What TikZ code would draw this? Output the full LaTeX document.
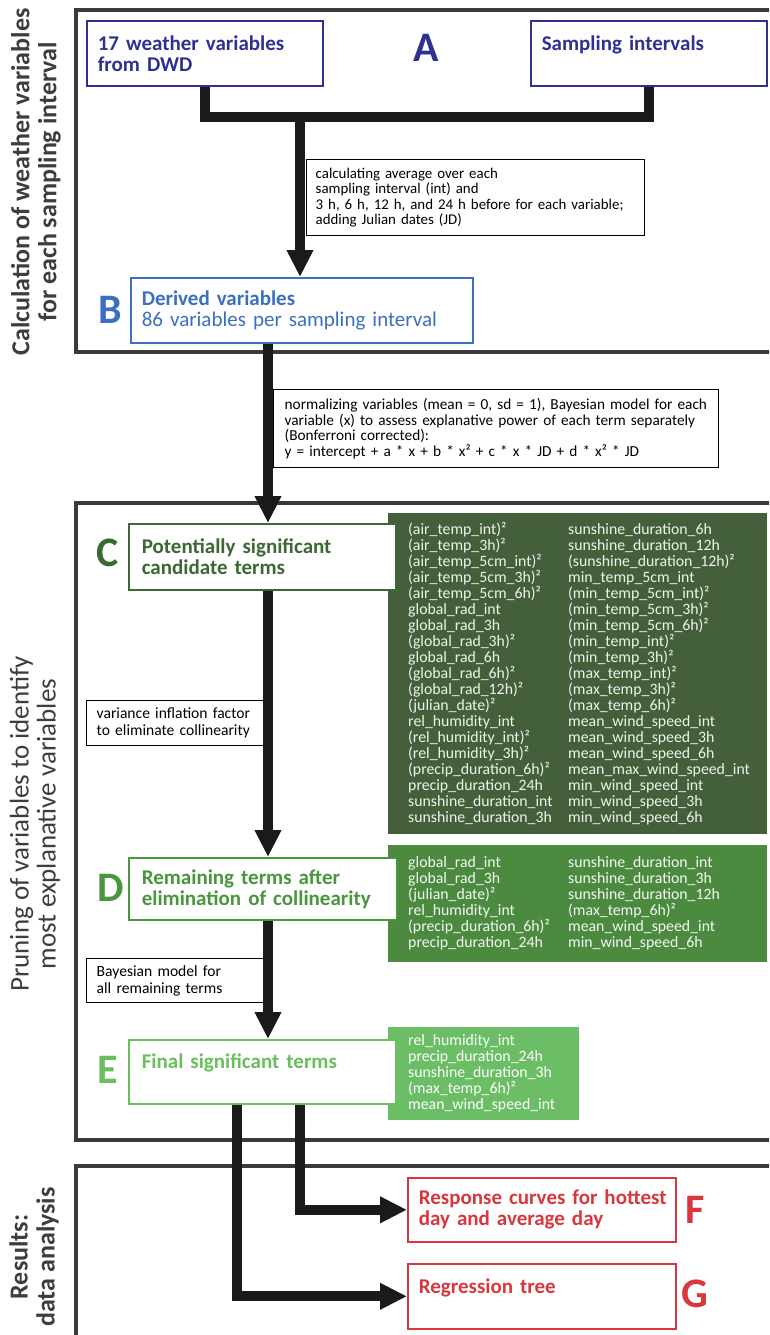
\documentclass[tikz,border=0pt]{standalone}
\usepackage{fontspec}
\setmainfont{Carlito}
\usetikzlibrary{arrows.meta}

\definecolor{navy}{RGB}{46,49,146}
\definecolor{lblue}{RGB}{59,111,194}
\definecolor{cgreen}{RGB}{60,104,52}
\definecolor{cpanel}{RGB}{68,96,59}
\definecolor{dgreen}{RGB}{74,150,62}
\definecolor{dpanel}{RGB}{76,139,63}
\definecolor{egreen}{RGB}{106,190,94}
\definecolor{epanel}{RGB}{108,190,102}
\definecolor{fred}{RGB}{215,55,61}
\definecolor{framegray}{RGB}{58,58,58}
\definecolor{sidegray}{RGB}{61,61,61}
\definecolor{flowblack}{RGB}{26,26,26}

\newcommand{\termrow}[2]{\makebox[160pt][l]{#1}#2}

\tikzset{
	stagebox/.style={draw, fill=white, line width=1.6pt, anchor=north west, align=left,
		inner xsep=11pt, inner ysep=0pt, font=\fontsize{21}{21}\selectfont\bfseries},
	notebox/.style={draw=black, fill=white, line width=1.4pt, anchor=north west, align=left,
		inner xsep=10pt, inner ysep=0pt, font=\fontsize{15.6}{17}\selectfont},
	termpanel/.style={anchor=north west, align=left, inner xsep=20pt, inner ysep=0pt,
		font=\fontsize{15.8}{16}\selectfont},
	stagetag/.style={font=\fontsize{42}{42}\selectfont\bfseries},
	sidelabel/.style={rotate=90, align=center, text=sidegray},
	stageframe/.style={draw=framegray, line width=3.5pt},
	flowline/.style={draw=flowblack, line width=10pt, line join=miter},
	bigtip/.style={-{Triangle[length=27pt,width=25pt]}}
}

\begin{document}
\begin{tikzpicture}[x=1pt, y=-1pt]
		%%%%% START %%%%%
		\clip (0,0) rectangle (769,1335);
		\fill[white] (0,0) rectangle (769,1335);
		
		\draw[stageframe] (76,10) rectangle (800,352);
		\draw[stageframe] (76,503) rectangle (800,1140);
		\draw[stageframe] (76,1166) rectangle (800,1400);
		
		\node[sidelabel, font=\fontsize{26}{27}\selectfont\bfseries] (calclabel) at (36,182) {Calculation of weather variables\\for each sampling interval};
		\node[sidelabel, font=\fontsize{27}{27}\selectfont] (prunelabel) at (35,824) {Pruning of variables to identify\\most explanative variables};
		\node[sidelabel, font=\fontsize{26}{27}\selectfont\bfseries] (resultlabel) at (34,1257) {Results:\\data analysis};
		
		% A and B
		\node[stagebox, draw=navy, text=navy, text width=214pt, minimum width=236pt, minimum height=65pt] (dwd) at (86,20) {17 weather variables\\from DWD};
		\node[stagebox, draw=navy, text=navy, text width=214pt, minimum width=236pt, minimum height=65pt] (intervals) at (530,20) {Sampling intervals\\\mbox{}};
		\node[stagetag, text=navy] (tagA) at (426,48) {A};
		
		\node[notebox, font=\fontsize{14.9}{15.6}\selectfont, inner xsep=9pt, text width=320pt, minimum height=76pt] (averaging) at (306,159) {\mbox{calculating average over each}\\\mbox{sampling interval (int) and}\\\mbox{3 h, 6 h, 12 h, and 24 h before for each variable;}\\\mbox{adding Julian dates (JD)}};
		
		\node[stagebox, draw=lblue, text=lblue, font=\fontsize{21}{21}\selectfont, text width=320pt, minimum width=342pt, minimum height=65pt] (derived) at (130,277) {\textbf{Derived variables}\\86 variables per sampling interval};
		\node[stagetag, text=lblue] (tagB) at (110,310) {B};
		
		\node[notebox, font=\fontsize{15.3}{15.5}\selectfont, inner xsep=11pt, text width=423pt, minimum height=78pt] (modelnote) at (273,389) {\mbox{normalizing variables (mean = 0, sd = 1), Bayesian model for each}\\\mbox{variable (x) to assess explanative power of each term separately}\\\mbox{(Bonferroni corrected):}\\\mbox{y = intercept + a * x + b * x² + c * x * JD + d * x² * JD}};
		
		% C
		\node[termpanel, fill=cpanel, text=cpanel!8, text width=339pt, minimum height=321pt] (candlist) at (388,513) {%
			\termrow{(air\_temp\_int)²}{sunshine\_duration\_6h}\\
			\termrow{(air\_temp\_3h)²}{sunshine\_duration\_12h}\\
			\termrow{(air\_temp\_5cm\_int)²}{(sunshine\_duration\_12h)²}\\
			\termrow{(air\_temp\_5cm\_3h)²}{min\_temp\_5cm\_int}\\
			\termrow{(air\_temp\_5cm\_6h)²}{(min\_temp\_5cm\_int)²}\\
			\termrow{global\_rad\_int}{(min\_temp\_5cm\_3h)²}\\
			\termrow{global\_rad\_3h}{(min\_temp\_5cm\_6h)²}\\
			\termrow{(global\_rad\_3h)²}{(min\_temp\_int)²}\\
			\termrow{global\_rad\_6h}{(min\_temp\_3h)²}\\
			\termrow{(global\_rad\_6h)²}{(max\_temp\_int)²}\\
			\termrow{(global\_rad\_12h)²}{(max\_temp\_3h)²}\\
			\termrow{(julian\_date)²}{(max\_temp\_6h)²}\\
			\termrow{rel\_humidity\_int}{mean\_wind\_speed\_int}\\
			\termrow{(rel\_humidity\_int)²}{mean\_wind\_speed\_3h}\\
			\termrow{(rel\_humidity\_3h)²}{mean\_wind\_speed\_6h}\\
			\termrow{(precip\_duration\_6h)²}{mean\_max\_wind\_speed\_int}\\
			\termrow{precip\_duration\_24h}{min\_wind\_speed\_int}\\
			\termrow{sunshine\_duration\_int}{min\_wind\_speed\_3h}\\
			\termrow{sunshine\_duration\_3h}{min\_wind\_speed\_6h}};
		\node[stagebox, draw=cgreen, text=cgreen, inner xsep=13pt, text width=241pt, minimum width=267pt, minimum height=66pt] (cand) at (128,523) {Potentially significant\\candidate terms};
		\node[stagetag, text=cgreen] (tagC) at (108,553) {C};
		
		\node[notebox, text width=157pt, minimum height=45pt] (vifnote) at (86,700) {\mbox{variance inflation factor}\\\mbox{to eliminate collinearity}};
		
		% D
		\node[termpanel, fill=dpanel, text=dpanel!6, text width=339pt, minimum height=117pt] (remlist) at (388,845) {%
			\termrow{global\_rad\_int}{sunshine\_duration\_int}\\
			\termrow{global\_rad\_3h}{sunshine\_duration\_3h}\\
			\termrow{(julian\_date)²}{sunshine\_duration\_12h}\\
			\termrow{rel\_humidity\_int}{(max\_temp\_6h)²}\\
			\termrow{(precip\_duration\_6h)²}{mean\_wind\_speed\_int}\\
			\termrow{precip\_duration\_24h}{min\_wind\_speed\_6h}};
		\node[stagebox, draw=dgreen, text=dgreen, inner xsep=13pt, text width=242pt, minimum width=268pt, minimum height=62pt] (rem) at (128,857) {Remaining terms after\\elimination of collinearity};
		\node[stagetag, text=dgreen] (tagD) at (111,888) {D};
		
		\node[notebox, text width=157pt, minimum height=44pt] (fitnote) at (86,958) {\mbox{Bayesian model for}\\\mbox{all remaining terms}};
		
		% E
		\node[termpanel, fill=epanel, text=white, text width=151pt, minimum height=93pt] (finlist) at (388,1027) {%
			rel\_humidity\_int\\
			precip\_duration\_24h\\
			sunshine\_duration\_3h\\
			(max\_temp\_6h)²\\
			mean\_wind\_speed\_int};
		\node[stagebox, draw=egreen, text=egreen, inner xsep=13pt, text width=241pt, minimum width=267pt, minimum height=64pt] (fin) at (128,1039) {Final significant terms\\\mbox{}};
		\node[stagetag, text=egreen] (tagE) at (108,1070) {E};
		
		% F and G
		\node[stagebox, draw=fred, text=fred, text width=246pt, minimum width=268pt, minimum height=64pt] (resp) at (407,1177) {\mbox{Response curves for hottest}\\day and average day};
		\node[stagebox, draw=fred, text=fred, text width=246pt, minimum width=268pt, minimum height=65pt] (tree) at (407,1263) {Regression tree\\\mbox{}};
		\node[stagetag, text=fred] (tagF) at (695,1210) {F};
		\node[stagetag, text=fred] (tagG) at (695,1294) {G};
		
		% arrows
		\coordinate (join) at (300,117);
		\coordinate (spine) at (268,0);
		\coordinate (legF) at (300,0);
		\coordinate (legG) at (237,0);
		
		\draw[flowline] (dwd.south) -- (dwd.south |- join) -- (intervals.south |- join) -- (intervals.south);
		\draw[flowline, bigtip] (join) -- (derived.north -| join);
		\draw[flowline, bigtip] (derived.south -| spine) -- (cand.north -| spine);
		\draw[flowline, bigtip] (cand.south -| spine) -- (rem.north -| spine);
		\draw[flowline, bigtip] (rem.south -| spine) -- (fin.north -| spine);
		\draw[flowline, bigtip] (fin.south -| legF) |- (resp.west);
		\draw[flowline, bigtip] (fin.south -| legG) |- (tree.west);
		
		%%%%% END %%%%%
\end{tikzpicture}
\end{document}
